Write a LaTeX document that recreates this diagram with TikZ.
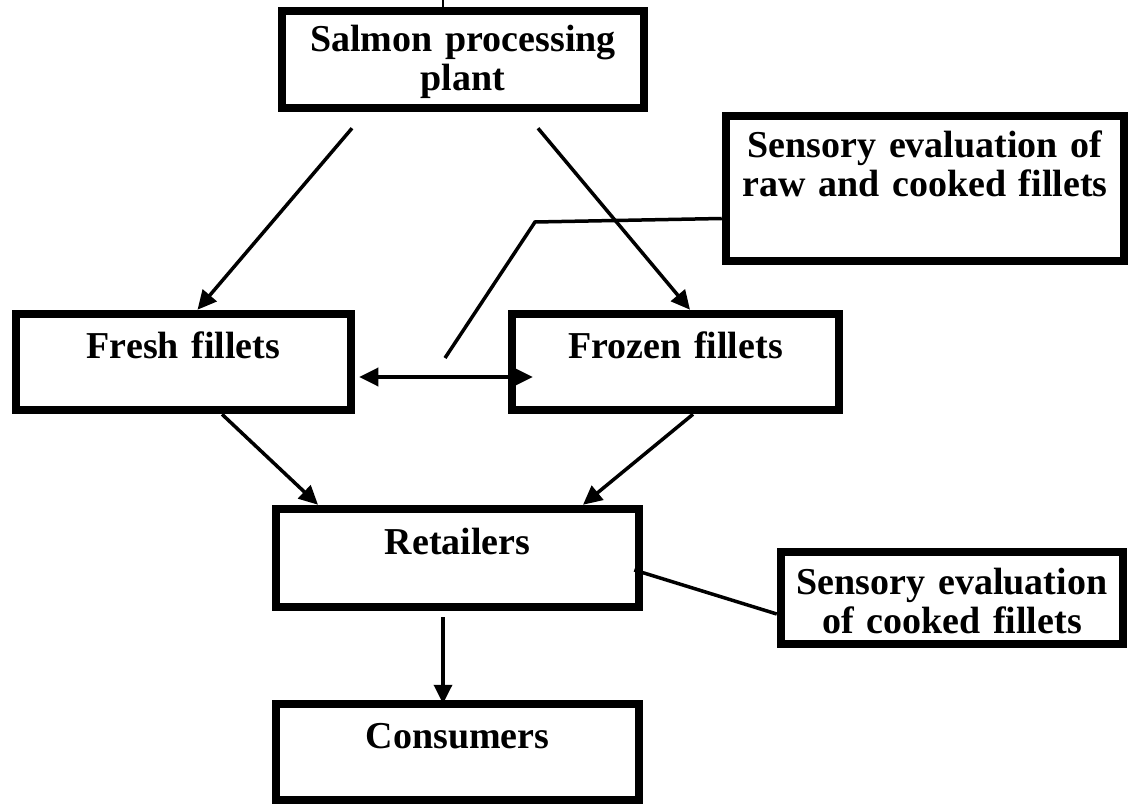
\documentclass[tikz,border=0pt]{standalone}
\usepackage{fontspec}
\setmainfont{Liberation Serif}
\usetikzlibrary{arrows.meta}

\begin{document}
\begin{tikzpicture}[x=1pt, y=-1pt,
  procbox/.style={draw, line width=8.5pt, inner sep=0pt, align=center,
    font=\fontsize{38}{39}\selectfont\bfseries, text height=25pt, text depth=33pt},
  flowarrow/.style={line width=3.5pt, -{Triangle[length=19pt,width=18pt]}},
  leader/.style={line width=3.5pt}]
  \useasboundingbox (0,0) rectangle (1130,805);

  \node[procbox, minimum width=362pt, minimum height=97pt, text width=350pt, text depth=40pt] (plant) at (463,59.5) {Salmon processing\\plant};
  \node[procbox, minimum width=398pt, minimum height=145pt, text width=390pt, text depth=86pt] (rawcooked) at (925,188.5) {Sensory evaluation of\\raw and cooked fillets};
  \node[procbox, minimum width=335pt, minimum height=96pt, text width=325pt] (fresh) at (183.5,362) {Fresh fillets};
  \node[procbox, minimum width=327pt, minimum height=96pt, text width=320pt] (frozen) at (675.5,362) {Frozen fillets};
  \node[procbox, minimum width=363pt, minimum height=98pt, text width=355pt] (retail) at (457.5,558) {Retailers};
  \node[procbox, minimum width=342pt, minimum height=92pt, text width=340pt, text depth=33pt] (cooked) at (952,598) {Sensory evaluation\\of cooked fillets};
  \node[procbox, minimum width=363pt, minimum height=96pt, text width=355pt] (consumer) at (457.5,752) {Consumers};

  \coordinate (topend) at (443,0);
  \draw[line width=2pt] (topend) -- ([xshift=-20pt]plant.north);

  \draw[flowarrow] ([xshift=-111pt,yshift=-16pt]plant.south) -- ([xshift=14pt]fresh.north);
  \draw[flowarrow] ([xshift=75pt,yshift=-16pt]plant.south) -- ([xshift=14.5pt]frozen.north);
  \draw[line width=3.5pt, {Triangle[length=19pt,width=18pt]}-{Triangle[length=19pt,width=18pt]}] ([xshift=4pt,yshift=-15pt]fresh.east) -- ([xshift=25pt,yshift=-15pt]frozen.west);
  \draw[flowarrow] ([xshift=38.5pt]fresh.south) -- ([xshift=-139.5pt]retail.north);
  \draw[flowarrow] ([xshift=17.5pt]frozen.south) -- ([xshift=125.5pt]retail.north);
  \draw[flowarrow] ([xshift=-14.5pt,yshift=-6pt]retail.south) -- ([xshift=-14.5pt,yshift=-4pt]consumer.north);

  \coordinate (bend) at (535,222);
  \coordinate (leadend) at (445,358);
  \draw[leader] ([yshift=-30pt]rawcooked.west) -- (bend) -- (leadend);
  \draw[leader] ([xshift=-9pt,yshift=-12pt]retail.east) -- ([yshift=-16pt]cooked.west);
\end{tikzpicture}
\end{document}
